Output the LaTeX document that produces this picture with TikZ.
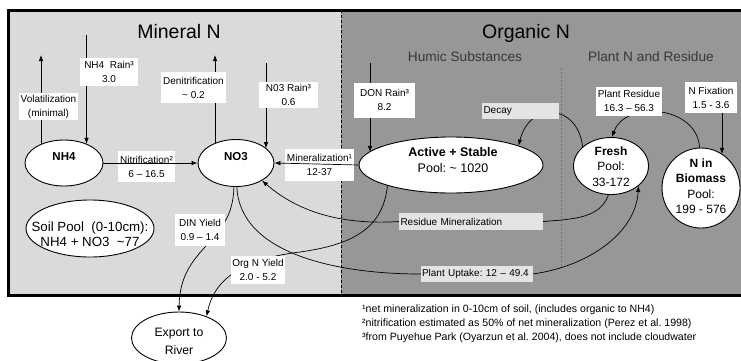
\documentclass[tikz,border=0pt]{standalone}
\usepackage{fontspec}
\setmainfont{Liberation Sans}
\usetikzlibrary{shapes.geometric,arrows.meta}
\pgfdeclarelayer{back}
\pgfdeclarelayer{lines}
\pgfsetlayers{back,lines,main}
\definecolor{lightbg}{HTML}{DADADA}
\definecolor{darkbg}{HTML}{979797}
\definecolor{lblgray}{HTML}{E4E4E4}
\definecolor{subtxt}{HTML}{383838}
\definecolor{innerdash}{HTML}{707070}
\frenchspacing
\begin{document}
\begin{tikzpicture}[x=1pt,y=-1pt,
  ell/.style={draw, line width=0.9pt, fill=white, ellipse, inner sep=0pt},
  lbl/.style={fill=white, inner sep=0pt, align=center, font=\fontsize{10}{14}\selectfont},
  lbll/.style={fill=lblgray, inner xsep=1.5pt, inner ysep=0pt, align=left, font=\fontsize{10}{14}\selectfont},
  etxt/.style={inner sep=0pt, align=center, font=\fontsize{12}{15.5}\selectfont},
  btxt/.style={inner sep=0pt, font=\fontsize{11.5}{14}\selectfont\bfseries},
  arr/.style={line width=0.7pt, -{Latex[length=6pt,width=4.5pt]}},
  title/.style={inner sep=0pt, font=\fontsize{19.5}{22}\selectfont},
  subtitle/.style={inner sep=0pt, text=subtxt, font=\fontsize{13.7}{16}\selectfont}
]
\useasboundingbox (0,0) rectangle (741,360);

% ---------- nodes ----------
\node[ell, minimum width=78pt, minimum height=46pt] (nh4) at (64,163) {};
\node[btxt] (nh4t) at (64,157) {NH4};
\node[ell, minimum width=76pt, minimum height=47pt] (no3) at (236,163) {};
\node[btxt] (no3t) at (236,157) {NO3};
\node[ell, minimum width=184pt, minimum height=56pt] (as) at (451,165) {};
\node[etxt, font=\fontsize{12.5}{16}\selectfont] (ast) at (453,160) {\textbf{Active + Stable}\\Pool: \textasciitilde\ 1020};
\node[ell, minimum width=75pt, minimum height=57pt] (fresh) at (611,166) {};
\node[etxt] (fresht) at (611,166.5) {\textbf{Fresh}\\Pool:\\33-172};
\node[ell, minimum width=78pt, minimum height=80pt] (bio) at (701,188) {};
\node[etxt] (biot) at (701,186) {\textbf{N in}\\\textbf{Biomass}\\Pool:\\199 - 576};
\node[ell, minimum width=128pt, minimum height=57pt] (soil) at (90,228.5) {};
\node[etxt, font=\fontsize{13.3}{15}\selectfont] (soilt) at (90,234.5) {Soil Pool\ \ (0-10cm):\\NH4 + NO3\ \ \textasciitilde77};
\node[ell, minimum width=95pt, minimum height=52pt] (export) at (179,338) {};
\node[etxt, font=\fontsize{12.2}{18}\selectfont] (exportt) at (179,341) {Export to\\River};

% titles
\node[title] (mint) at (179,32) {Mineral N};
\node[title] (orgt) at (526,33) {Organic N};
\node[subtitle] (humt) at (465,57) {Humic Substances};
\node[subtitle] (plt) at (651,57) {Plant N and Residue};

% labels
\node[lbl, minimum width=59pt, minimum height=27pt] (vollbl) at (48.5,106.5) {Volatilization\\(minimal)};
\node[lbl, minimum width=58pt, minimum height=28pt] (nh4rl) at (109,72) {NH4\ \ Rain³\\3.0};
\node[lbl, minimum width=65pt, minimum height=31pt] (denl) at (193.5,87.5) {Denitrification\\\textasciitilde\ 0.2};
\node[lbl, minimum width=59pt, minimum height=26pt] (no3rl) at (288.5,95) {N03 Rain³\\0.6};
\node[lbl, minimum width=61pt, minimum height=35pt] (donl) at (384.5,100) {DON Rain³\\8.2};
\node[lbll, text width=74pt, minimum height=16pt] (decl) at (520.5,111) {Decay};
\node[lbl, minimum width=66pt, minimum height=29pt] (prl) at (629,101) {Plant Residue\\16.3 – 56.3};
\node[lbl, minimum width=52pt, minimum height=31pt] (nfl) at (711,97.5) {N Fixation\\1.5 - 3.6};
\node[lbl, minimum width=57pt, minimum height=31pt] (nitl) at (146.5,166.5) {Nitrification²\\6 – 16.5};
\node[lbl, minimum width=69pt, minimum height=32pt] (minl) at (319.5,164.5) {Mineralization¹\\12-37};
\node[lbl, minimum width=50pt, minimum height=32pt] (dinl) at (200,230) {DIN Yield\\0.9 – 1.4};
\node[lbl, minimum width=54pt, minimum height=28pt] (orgl) at (258,270) {Org N Yield\\2.0 - 5.2};
\node[lbll, text width=141pt, minimum height=17pt] (rml) at (471,221.5) {Residue Mineralization};
\node[lbll, text width=109pt, minimum height=16pt] (pul) at (476.5,274) {Plant Uptake: 12 – 49.4};

% footnotes
\node[anchor=west, align=left, inner sep=0pt, font=\fontsize{10.6}{14}\selectfont] (notes) at (362,324)
 {¹net mineralization in 0-10cm of soil, (includes organic to NH4)\\
  ²nitrification estimated as 50\% of net mineralization (Perez et al. 1998)\\
  ³from Puyehue Park (Oyarzun et al. 2004), does not include cloudwater};

% free ends
\coordinate (voltop) at (41,55);
\coordinate (nh4raintop) at (86.5,35);
\coordinate (dentop) at (215,55);
\coordinate (no3raintop) at (266,63);
\coordinate (dontop) at (370,63);
\coordinate (nfixtop) at (722,95);

% arrows crossing between label halves (on top)
\draw[arr] (nh4.east) -- (no3.west);
\draw[arr] (as.west) -- (no3.east);

% ---------- connectors ----------
\begin{pgfonlayer}{lines}
\draw[arr] (voltop |- nh4.140) -- (voltop);
\draw[arr] (nh4raintop) -- (nh4raintop |- nh4.40);
\draw[arr] (dentop |- no3.137) -- (dentop);
\draw[arr] (no3raintop) -- (no3raintop |- no3.26);
\draw[arr] (dontop) -- (dontop |- as.171);
\draw[arr] (nfixtop) -- (nfixtop |- bio.58);
% yields
\draw[arr] (no3.-95) .. controls (233,245) and (180,245) .. (export.north);
\draw[arr] (as.-162) .. controls (383,230) and (350,245) .. (300,252)
                     .. controls (250,258) and (215,275) .. (export.38);
% plant uptake
\draw[arr] (no3.-88) .. controls (240,255) and (340,274) .. (pul.west) -- (pul.east)
                     .. controls (590,266) and (636,232) .. (fresh.-36);
% residue mineralization
\draw[arr] (fresh.-95) .. controls (600,218) and (575,219) .. (rml.east) -- (rml.west)
                       .. controls (330,226) and (290,205) .. (no3.-34);
% decay
\draw[arr] (fresh.146) .. controls (578,104) and (530,100) .. (as.16);
% plant residue
\draw[arr] (bio.92) .. controls (697,105) and (625,100) .. (fresh.88);
\end{pgfonlayer}

% ---------- background ----------
\begin{pgfonlayer}{back}
\fill[lightbg] (8,10) rectangle (341,295);
\fill[darkbg] (341,10) rectangle (760,295);
\draw[line width=0.6pt, dash pattern=on 3pt off 2pt] (341,10) -- (341,295);
\draw[innerdash, line width=0.4pt, dash pattern=on 2pt off 2pt] (561,68) -- (561,267);
\end{pgfonlayer}
\draw[line width=3pt] (8,10) rectangle (760,295);
\end{tikzpicture}
\end{document}
